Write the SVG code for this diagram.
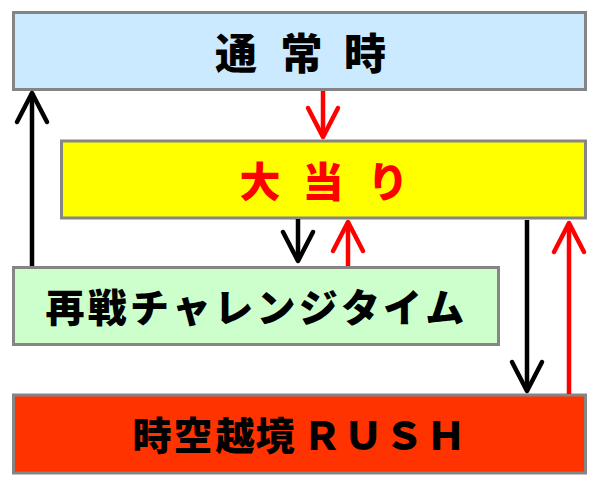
<svg xmlns="http://www.w3.org/2000/svg" width="600" height="487" viewBox="0 0 600 487">
<style>
.box{stroke:#858585;stroke-width:3}
.t{font-family:"Noto Sans CJK JP","Noto Sans CJK SC",sans-serif;font-weight:900;text-anchor:middle}
.ab{stroke:#000;stroke-width:4.5;fill:none}
.ar{stroke:#ff0000;stroke-width:4.5;fill:none}
</style>
<defs>
<marker id="hb" markerUnits="userSpaceOnUse" viewBox="-36 -20 40 40" refX="0" refY="0" markerWidth="40" markerHeight="40" orient="auto">
<path d="M-29,-15 L0,0 L-29,15" fill="none" stroke="#000" stroke-width="4.5" stroke-linecap="round" stroke-linejoin="round"/>
</marker>
<marker id="hr" markerUnits="userSpaceOnUse" viewBox="-36 -20 40 40" refX="0" refY="0" markerWidth="40" markerHeight="40" orient="auto">
<path d="M-29,-15 L0,0 L-29,15" fill="none" stroke="#ff0000" stroke-width="4.5" stroke-linecap="round" stroke-linejoin="round"/>
</marker>
</defs>
<rect width="600" height="487" fill="#fff"/>
<g id="normal">
<rect class="box" x="13.5" y="12.5" width="572" height="77" fill="#cceaff"/>
<text class="t" x="236 301.5 365" y="69" font-size="42" fill="#000">通常時</text>
</g>
<g id="jackpot">
<rect class="box" x="61.5" y="141" width="524" height="77" fill="#ffff00"/>
<text class="t" x="260 323 388" y="197" font-size="41" fill="#ff0000">大当り</text>
</g>
<g id="rechallenge">
<rect class="box" x="13.5" y="267.5" width="485" height="77" fill="#ccffcc"/>
<text class="t" x="65 107.2 149.4 191.6 233.8 276 318.2 360.4 402.6 444.8" y="322" font-size="39" fill="#000">再戦チャレンジタイム</text>
</g>
<g id="rush">
<rect class="box" x="13.5" y="395" width="572" height="78" fill="#ff3300"/>
<text class="t" x="152 193 235 275 322 363 404 446" y="450" font-size="39" fill="#000">時空越境ＲＵＳＨ</text>
</g>
<g id="connectors">
<line class="ab" x1="32" y1="266" x2="32" y2="93" marker-end="url(#hb)"/>
<line class="ar" x1="323" y1="91" x2="323" y2="137" marker-end="url(#hr)"/>
<line class="ab" x1="298" y1="219" x2="298" y2="261" marker-end="url(#hb)"/>
<line class="ar" x1="348" y1="266" x2="348" y2="222" marker-end="url(#hr)"/>
<line class="ab" x1="527" y1="220" x2="527" y2="391" marker-end="url(#hb)"/>
<line class="ar" x1="569" y1="394" x2="569" y2="223" marker-end="url(#hr)"/>
</g>
</svg>
